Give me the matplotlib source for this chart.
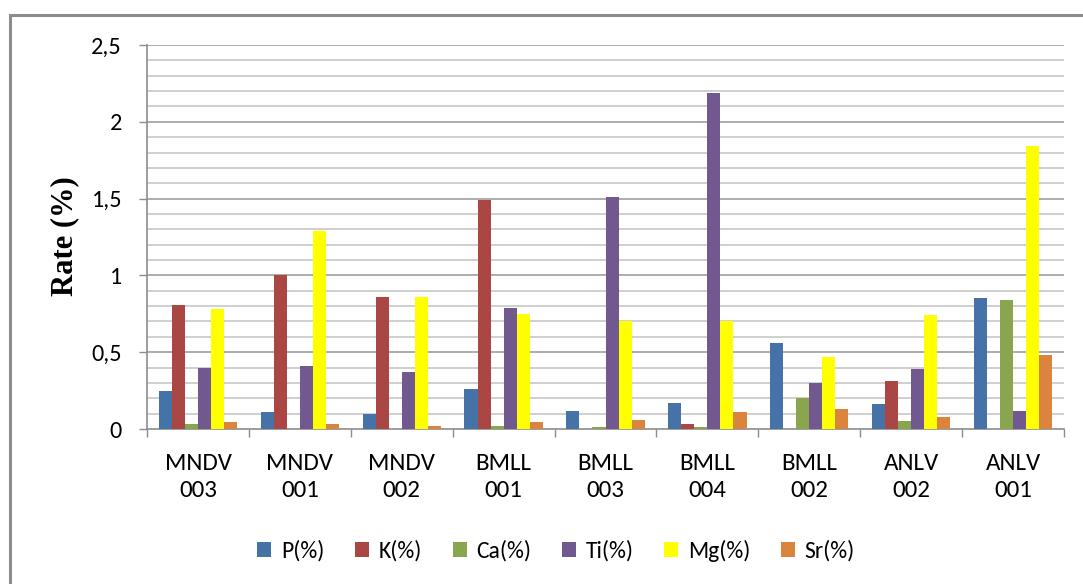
import numpy as np
import matplotlib
matplotlib.use("Agg")
from matplotlib import pyplot as plt
from matplotlib.patches import Rectangle

# samples and measured rates (%)
samples = ["MNDV\n003", "MNDV\n001", "MNDV\n002", "BMLL\n001", "BMLL\n003",
           "BMLL\n004", "BMLL\n002", "ANLV\n002", "ANLV\n001"]
p_vals = [0.25, 0.11, 0.10, 0.26, 0.12, 0.17, 0.56, 0.16, 0.85]
k_vals = [0.81, 1.00, 0.86, 1.49, 0.00, 0.03, 0.00, 0.31, 0.00]
ca_vals = [0.03, 0.00, 0.00, 0.02, 0.01, 0.01, 0.20, 0.05, 0.84]
ti_vals = [0.40, 0.41, 0.37, 0.79, 1.51, 2.19, 0.30, 0.39, 0.12]
mg_vals = [0.78, 1.29, 0.86, 0.75, 0.70, 0.70, 0.47, 0.74, 1.84]
sr_vals = [0.045, 0.03, 0.02, 0.045, 0.06, 0.11, 0.13, 0.08, 0.48]
series_names = ["P(%)", "K(%)", "Ca(%)", "Ti(%)", "Mg(%)", "Sr(%)"]
y_ticks = [0, 0.5, 1, 1.5, 2, 2.5]
y_tick_labels = ["0", "0,5", "1", "1,5", "2", "2,5"]

colors = ["#4572A7", "#AA4643", "#89A54E", "#71588F", "#FFFF00", "#DB843D"]
calibri = ["Carlito", "DejaVu Sans"]

def main():
    fig = plt.figure(figsize=(10.83, 5.84), dpi=100)
    ax = fig.add_axes([147 / 1083, 1 - 429 / 584, (1064 - 147) / 1083, (429 - 45) / 584])

    x = np.arange(len(samples))
    w = 0.128
    all_vals = [p_vals, k_vals, ca_vals, ti_vals, mg_vals, sr_vals]
    handles = []
    for i, vals in enumerate(all_vals):
        b = ax.bar(x + (i - 2.5) * w, vals, w, color=colors[i], zorder=3,
                   label=series_names[i])
        handles.append(b)

    ax.set_xlim(-0.5, len(samples) - 0.5)
    ax.set_ylim(0, 2.5)

    # gridlines: minor every 0.1, major every 0.5
    for v in np.arange(0.1, 2.5, 0.1):
        if abs(v * 2 - round(v * 2)) < 1e-6:
            continue
        ax.axhline(v, color="#cccccc", lw=1.3, zorder=1)
    for v in y_ticks[1:]:
        ax.axhline(v, color="#a6a6a6", lw=1.3, zorder=1)

    ax.set_yticks(y_ticks)
    ax.set_yticklabels(y_tick_labels, fontsize=17.5, family=calibri)
    ax.tick_params(axis="y", length=6, width=1, color="#8c8c8c", pad=12)

    ax.set_xticks(x)
    ax.set_xticklabels(samples, fontsize=18, family=calibri, linespacing=1.4)
    ax.set_xticks(np.arange(-0.5, len(samples)), minor=True)
    ax.tick_params(axis="x", which="major", length=0, pad=17)
    ax.tick_params(axis="x", which="minor", length=6, width=1, color="#8c8c8c")

    for s in ["top", "right"]:
        ax.spines[s].set_visible(False)
    for s in ["left", "bottom"]:
        ax.spines[s].set_color("#8c8c8c")
        ax.spines[s].set_linewidth(1.2)

    fig.text(65 / 1083, 1 - 236 / 584, "Rate (%)", rotation=90, ha="center",
             va="center", fontsize=22, fontweight="bold", family="Liberation Serif")

    fig.legend(handles=handles, loc="center", bbox_to_anchor=(556 / 1083, 1 - 551 / 584),
               ncol=6, frameon=False, prop={"family": calibri, "size": 17},
               handlelength=0.6, handleheight=0.6, handletextpad=0.4,
               columnspacing=1.3)

    # chart area border
    fig.patches.append(Rectangle((10 / 1083, -0.05), 1.1, 1 - 15 / 584 + 0.05,
                                 transform=fig.transFigure, fill=False,
                                 edgecolor="#8c8c8c", lw=2.2, zorder=0))

    fig.savefig("out.png", dpi=100)

if __name__ == "__main__":
    main()
